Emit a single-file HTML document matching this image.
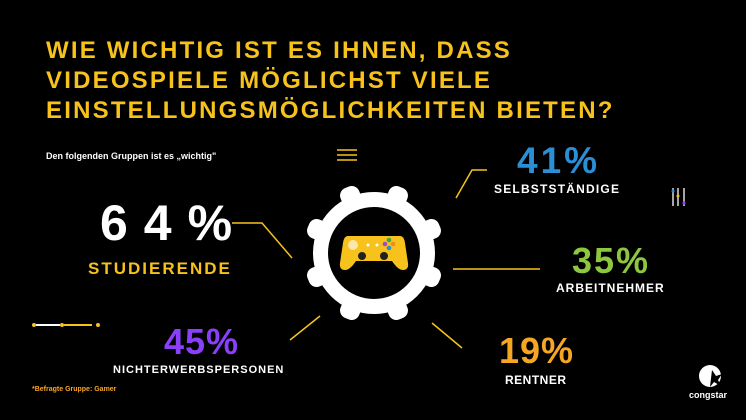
<!DOCTYPE html>
<html><head><meta charset="utf-8"><style>
body{margin:0;width:746px;height:420px;background:#000;overflow:hidden;position:relative;font-family:"Liberation Sans",sans-serif}
.t{position:absolute;white-space:nowrap;font-weight:bold}
.title{left:46px;top:36px;color:#f7c21b;font-size:24px;line-height:30px;letter-spacing:2.2px}
</style></head><body>
<div class="t title">WIE WICHTIG IST ES IHNEN, DASS<br>VIDEOSPIELE MÖGLICHST VIELE<br>EINSTELLUNGSMÖGLICHKEITEN BIETEN?</div>
<div class="t" style="left:46px;top:151px;color:#fff;font-size:9px">Den folgenden Gruppen ist es „wichtig"</div>
<div class="t" style="left:100px;top:194px;color:#fff;font-size:50px;letter-spacing:16px">64%</div>
<div class="t" style="left:88px;top:259px;color:#f7c21b;font-size:17px;letter-spacing:2px">STUDIERENDE</div>
<div class="t" style="left:517px;top:140px;color:#2a8fd6;font-size:37px;letter-spacing:3px">41%</div>
<div class="t" style="left:494px;top:182px;color:#fff;font-size:12px;letter-spacing:1.2px">SELBSTSTÄNDIGE</div>
<div class="t" style="left:572px;top:240px;color:#8dc63f;font-size:36px;letter-spacing:2px">35%</div>
<div class="t" style="left:556px;top:281px;color:#fff;font-size:12px;letter-spacing:1px">ARBEITNEHMER</div>
<div class="t" style="left:164px;top:321px;color:#8a3ffc;font-size:36px;letter-spacing:1px">45%</div>
<div class="t" style="left:113px;top:364px;color:#fff;font-size:11px;letter-spacing:1px">NICHTERWERBSPERSONEN</div>
<div class="t" style="left:499px;top:330px;color:#f5a623;font-size:36px;letter-spacing:1px">19%</div>
<div class="t" style="left:505px;top:373px;color:#fff;font-size:12px;letter-spacing:0.5px">RENTNER</div>
<div class="t" style="left:32px;top:386px;color:#f5a623;font-size:7px">*Befragte Gruppe: Gamer</div>
<div class="t" style="left:689px;top:390px;color:#fff;font-size:9px">congstar</div>
<svg width="746" height="420" style="position:absolute;left:0;top:0">
<g stroke="#f7c21b" stroke-width="1.5" fill="none">
<polyline points="232,223 262,223 292,258"/>
<polyline points="456,198 472,170 487,170"/>
<line x1="453" y1="269" x2="540" y2="269"/>
<line x1="432" y1="323" x2="462" y2="348"/>
<line x1="290" y1="340" x2="320" y2="316"/>
<line x1="337" y1="150" x2="357" y2="150"/><line x1="337" y1="155" x2="357" y2="155"/><line x1="337" y1="160" x2="357" y2="160"/>
</g>
<g transform="translate(374,253)" fill="#fff">
<circle r="61"/>
<g id="tooth" transform="rotate(22.5)"><rect x="-10" y="-71" width="20" height="18" rx="8"/></g>
<use href="#tooth" transform="rotate(45)"/><use href="#tooth" transform="rotate(90)"/><use href="#tooth" transform="rotate(135)"/>
<use href="#tooth" transform="rotate(180)"/><use href="#tooth" transform="rotate(225)"/><use href="#tooth" transform="rotate(270)"/><use href="#tooth" transform="rotate(315)"/>
<circle r="46" fill="#000"/>
<path d="M-26,-17 Q-30,-17 -31,-10 L-34,10 Q-35,17 -29,17 Q-24,17 -18,8 L18,8 Q24,17 29,17 Q35,17 34,10 L31,-10 Q30,-17 26,-17 Z" fill="#f7c21b"/>
<circle cx="-21" cy="-8" r="5" fill="#fde6a8"/>
<circle cx="-6" cy="-8" r="1.5"/><circle cx="3" cy="-8" r="1.5"/>
<circle cx="-12" cy="3" r="4" fill="#222"/><circle cx="10" cy="3" r="4" fill="#222"/>
<circle cx="15" cy="-13" r="2.3" fill="#3aa84a"/><circle cx="11" cy="-9" r="2.3" fill="#9b4cc9"/><circle cx="19" cy="-9" r="2.3" fill="#f08a24"/><circle cx="15" cy="-5" r="2.3" fill="#2a8fd6"/>
</g>
<g stroke-width="2">
<line x1="36" y1="325" x2="60" y2="325" stroke="#fff"/><line x1="64" y1="325" x2="92" y2="325" stroke="#f7c21b"/>
</g>
<circle cx="34" cy="325" r="2" fill="#f7c21b"/><circle cx="62" cy="325" r="2" fill="#f7c21b"/><circle cx="98" cy="325" r="2" fill="#f7c21b"/>
<g stroke-width="1.3"><line x1="673" y1="188" x2="673" y2="206" stroke="#fff"/><line x1="678" y1="188" x2="678" y2="206" stroke="#fff"/><line x1="684" y1="188" x2="684" y2="206" stroke="#fff"/></g>
<circle cx="673" cy="191" r="1.5" fill="#2a8fd6"/><circle cx="678" cy="196" r="1.5" fill="#f7c21b"/><circle cx="684" cy="203" r="1.5" fill="#8a3ffc"/>
<circle cx="710" cy="376" r="11" fill="#fff"/>
<path d="M712,370 L716,376 L722,374 L718,380 L721,386 L714,382 L710,387 Z" fill="#000"/>
</svg>
</body></html>
